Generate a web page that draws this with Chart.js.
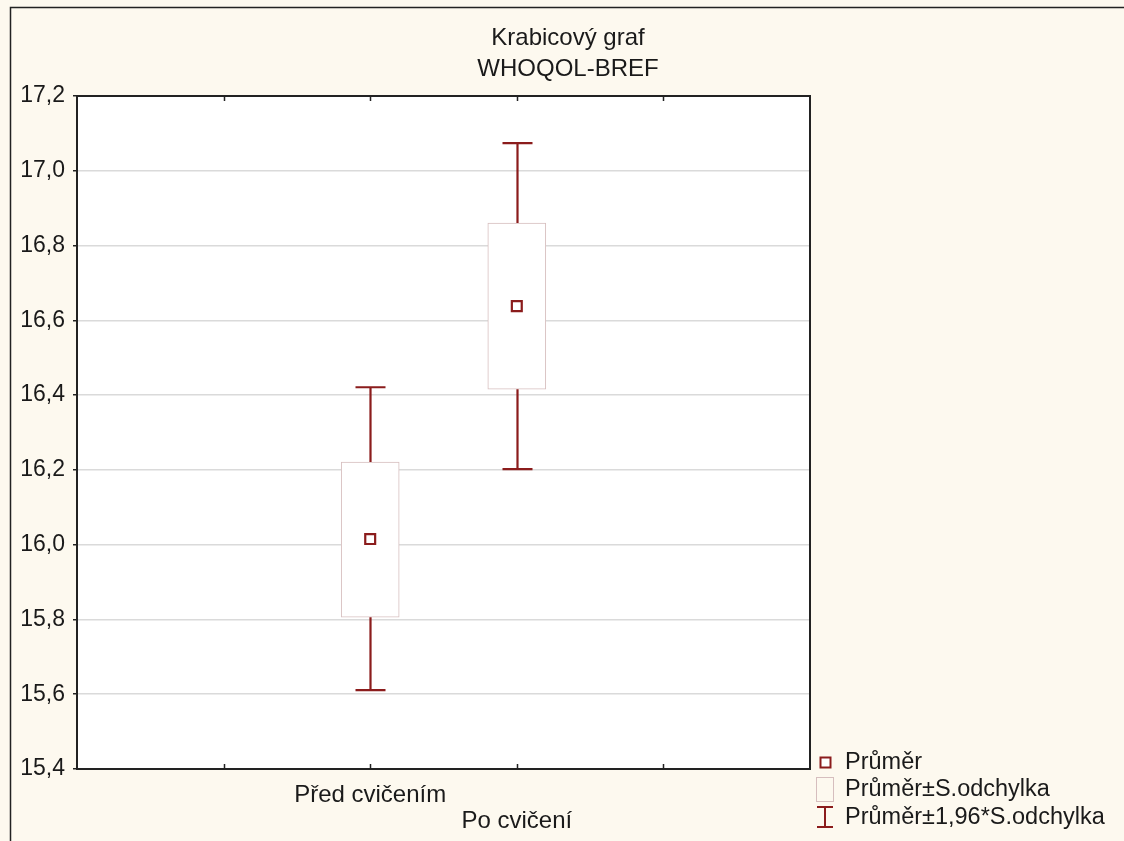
<!DOCTYPE html>
<html>
<head>
<meta charset="utf-8">
<script src="https://cdn.jsdelivr.net/npm/chart.js@4"></script>
<style>
  html, body { margin: 0; padding: 0; background: #fdf9ef; }
  #wrap { width: 1124px; height: 841px; }
</style>
</head>
<body>
<div id="wrap"><canvas id="boxChart" width="1124" height="841"></canvas></div>
<script>
// data
var categories = ['Před cvičením', 'Po cvičení'];
var positions = [2, 3];
var means = [16.015, 16.638];
var sdLow = [15.806, 16.416];
var sdHigh = [16.221, 16.860];
var ciLow = [15.611, 16.202];
var ciHigh = [16.421, 17.074];
var yTicks = [15.4, 15.6, 15.8, 16.0, 16.2, 16.4, 16.6, 16.8, 17.0, 17.2];
var xTicks = [1, 2, 3, 4];

var titleLines = ['Krabicový graf', 'WHOQOL-BREF'];
var legendLabels = ['Průměr', 'Průměr±S.odchylka', 'Průměr±1,96*S.odchylka'];

var darkRed = '#8b1c1c';
var boxEdge = '#d6bebe';
var fontName = '"Liberation Sans", Arial, sans-serif';

var boxData = positions.map(function (p, i) { return { x: p, y: [sdLow[i], sdHigh[i]] }; });
var meanData = positions.map(function (p, i) { return { x: p, y: means[i] }; });

var decor = {
    id: 'decor',
    beforeDraw: function (chart) {
        var ctx = chart.ctx, a = chart.chartArea;
        ctx.save();
        ctx.fillStyle = '#fdf9ef';
        ctx.fillRect(0, 0, chart.width, chart.height);
        ctx.fillStyle = '#ffffff';
        ctx.fillRect(a.left, a.top, a.right - a.left, a.bottom - a.top);
        // outer frame
        ctx.strokeStyle = '#222';
        ctx.lineWidth = 1.5;
        ctx.beginPath();
        ctx.moveTo(10.5, chart.height + 2);
        ctx.lineTo(10.5, 7.5);
        ctx.lineTo(chart.width + 2, 7.5);
        ctx.stroke();
        ctx.restore();
    },
    afterDatasetsDraw: function (chart) {
        var ctx = chart.ctx;
        var xs = chart.scales.x, ys = chart.scales.y;
        ctx.save();
        // whiskers
        ctx.strokeStyle = darkRed;
        ctx.lineWidth = 2.2;
        positions.forEach(function (p, i) {
            var x = Math.round(xs.getPixelForValue(p)) + 0.5;
            var yTop = ys.getPixelForValue(ciHigh[i]);
            var yBoxT = ys.getPixelForValue(sdHigh[i]);
            var yBoxB = ys.getPixelForValue(sdLow[i]);
            var yBot = ys.getPixelForValue(ciLow[i]);
            ctx.beginPath();
            ctx.moveTo(x, yTop); ctx.lineTo(x, yBoxT);
            ctx.moveTo(x, yBoxB); ctx.lineTo(x, yBot);
            ctx.moveTo(x - 15, yTop); ctx.lineTo(x + 15, yTop);
            ctx.moveTo(x - 15, yBot); ctx.lineTo(x + 15, yBot);
            ctx.stroke();
        });
        ctx.restore();
    },
    afterDraw: function (chart) {
        var ctx = chart.ctx, a = chart.chartArea;
        var xs = chart.scales.x;
        ctx.save();
        // plot frame
        ctx.strokeStyle = '#222';
        ctx.lineWidth = 2;
        ctx.strokeRect(a.left, a.top, a.right - a.left, a.bottom - a.top);
        // inward x ticks on top and bottom
        ctx.lineWidth = 1.5;
        ctx.beginPath();
        xTicks.forEach(function (t) {
            var x = Math.round(xs.getPixelForValue(t)) + 0.5;
            ctx.moveTo(x, a.top); ctx.lineTo(x, a.top + 5);
            ctx.moveTo(x, a.bottom); ctx.lineTo(x, a.bottom - 5);
        });
        ctx.stroke();
        // title
        ctx.fillStyle = '#1a1a1a';
        ctx.font = '24px ' + fontName;
        ctx.textAlign = 'center';
        ctx.textBaseline = 'middle';
        ctx.fillText(titleLines[0], 568, 38);
        ctx.fillText(titleLines[1], 568, 69);
        // legend
        var lx = 825, ly = [762, 789, 817];
        ctx.textAlign = 'left';
        ctx.font = '23.5px ' + fontName;
        ctx.strokeStyle = darkRed;
        ctx.lineWidth = 2;
        ctx.fillStyle = '#fff';
        ctx.fillRect(lx - 4.5, ly[0] - 4.5, 10, 10);
        ctx.strokeRect(lx - 4.5, ly[0] - 4.5, 10, 10);
        ctx.strokeStyle = boxEdge;
        ctx.lineWidth = 1;
        ctx.strokeRect(lx - 8.5, ly[1] - 11.5, 17, 24);
        ctx.strokeStyle = darkRed;
        ctx.lineWidth = 2;
        ctx.beginPath();
        ctx.moveTo(lx, ly[2] - 10); ctx.lineTo(lx, ly[2] + 10);
        ctx.moveTo(lx - 8, ly[2] - 10); ctx.lineTo(lx + 8, ly[2] - 10);
        ctx.moveTo(lx - 8, ly[2] + 10); ctx.lineTo(lx + 8, ly[2] + 10);
        ctx.stroke();
        ctx.fillStyle = '#1a1a1a';
        legendLabels.forEach(function (t, i) { ctx.fillText(t, lx + 20, ly[i] + 1); });
        ctx.restore();
    }
};

var ctx = document.getElementById('boxChart').getContext('2d');
var myChart = new Chart(ctx, {
    type: 'bar',
    data: {
        datasets: [
            {
                type: 'scatter',
                label: legendLabels[0],
                data: meanData,
                pointStyle: 'rect',
                pointRadius: 7,
                borderColor: darkRed,
                borderWidth: 2.2,
                backgroundColor: '#ffffff',
                order: 0
            },
            {
                type: 'bar',
                label: legendLabels[1],
                data: boxData,
                backgroundColor: '#ffffff',
                borderColor: boxEdge,
                borderWidth: 1,
                borderSkipped: false,
                barThickness: 58,
                order: 1
            }
        ]
    },
    options: {
        responsive: false,
        animation: false,
        layout: { padding: { left: 10, right: 314, top: 96, bottom: 0 } },
        plugins: {
            legend: { display: false },
            title: { display: false },
            tooltip: { enabled: false }
        },
        scales: {
            x: {
                type: 'linear',
                min: 0,
                max: 5,
                offset: false,
                afterBuildTicks: function (s) { s.ticks = xTicks.map(function (v) { return { value: v }; }); },
                afterFit: function (s) { s.height = 72; },
                grid: { display: false, drawTicks: false },
                border: { display: false },
                ticks: {
                    autoSkip: false,
                    maxRotation: 0,
                    padding: 13,
                    color: '#1a1a1a',
                    font: { family: fontName, size: 24, lineHeight: 1.1 },
                    callback: function (v) {
                        var i = positions.indexOf(v);
                        if (i === 0) return categories[0];
                        if (i === 1) return ['', categories[1]];
                        return '';
                    }
                }
            },
            y: {
                min: 15.4,
                max: 17.2,
                afterBuildTicks: function (s) { s.ticks = yTicks.map(function (v) { return { value: v }; }); },
                afterFit: function (s) { s.width = 67; },
                grid: { color: '#dadada', tickColor: '#222', tickLength: 4, lineWidth: 1.5 },
                border: { display: false },
                ticks: {
                    padding: 8,
                    color: '#1a1a1a',
                    font: { family: fontName, size: 23 },
                    callback: function (v) { return v.toFixed(1).replace('.', ','); }
                }
            }
        }
    },
    plugins: [decor]
});
</script>
</body>
</html>
